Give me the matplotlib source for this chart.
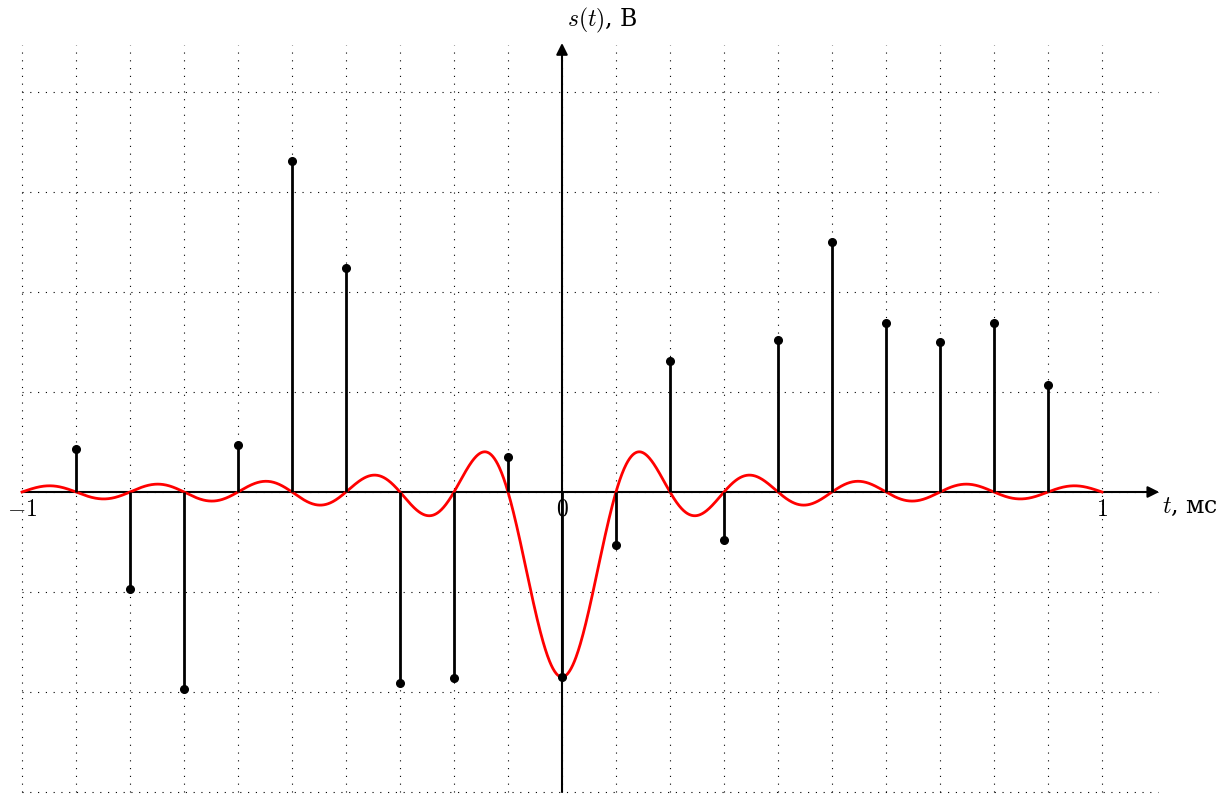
"""Discrete samples s(nT) with the sinc pulse of the central sample."""

import matplotlib.pyplot as plt
import matplotlib
import numpy as np

matplotlib.rcParams["font.family"] = "DejaVu Serif"
matplotlib.rcParams["mathtext.fontset"] = "cm"

T = 0.1  # sampling step, ms

# sample times (ms) and values (V)
t_samples = [-0.9, -0.8, -0.7, -0.6, -0.5, -0.4, -0.3, -0.2, -0.1, 0.0,
             0.1, 0.2, 0.3, 0.4, 0.5, 0.6, 0.7, 0.8, 0.9]
s_samples = [0.43, -0.97, -1.97, 0.47, 3.31, 2.24, -1.91, -1.86, 0.35, -1.85,
             -0.53, 1.31, -0.48, 1.52, 2.50, 1.69, 1.50, 1.69, 1.07]

x_ticks = [-1, 0, 1]
x_tick_labels = ["$-1$", "$0$", "$1$"]
grid_x = np.round(np.arange(-1.0, 1.01, 0.1), 2)
grid_y = [-3, -2, -1, 0, 1, 2, 3, 4]

# red pulse: sinc contribution of the sample at t = 0
s0 = s_samples[t_samples.index(0.0)]
t = np.linspace(-1, 1, 2001)
pulse = s0 * np.sinc(t / T)

fig = plt.figure(figsize=(12.23, 7.94), dpi=100)
ax = fig.add_axes([0, 0, 1, 1])
ax.set_xlim(-1 - 22 / 540, 1 + 121 / 540)
ax.set_ylim(-3.02, 4.92)
ax.axis("off")

# dotted grid
for gx in grid_x:
    ax.plot([gx, gx], [-3.0, 4.47], color="black", linewidth=0.8,
            linestyle=(0, (1, 6)), zorder=1)
for gy in grid_y:
    ax.plot([-1.0, 1.104], [gy, gy], color="black", linewidth=0.8,
            linestyle=(0, (1, 6)), zorder=1)

# axes with arrows
ax.annotate("", xy=(1.106, 0), xytext=(-1.0, 0),
            arrowprops=dict(arrowstyle="-|>", color="black", lw=1.5,
                            mutation_scale=17, shrinkA=0, shrinkB=0), zorder=2)
ax.annotate("", xy=(0, 4.49), xytext=(0, -3.0),
            arrowprops=dict(arrowstyle="-|>", color="black", lw=1.5,
                            mutation_scale=17, shrinkA=0, shrinkB=0), zorder=2)

# red curve
ax.plot(t, pulse, color="red", linewidth=2.0, zorder=3)

# stems
ax.vlines(t_samples, 0, s_samples, color="black", linewidth=2.0, zorder=4)
ax.plot(t_samples, s_samples, "o", color="black", markersize=5.5, zorder=5)

# tick labels
for xv, lab in zip(x_ticks, x_tick_labels):
    ax.text(xv, -0.17, lab, ha="center", va="center", fontsize=17)

ax.text(1.112, -0.15, "$t$, мс", ha="left", va="center", fontsize=17)
ax.text(0.01, 4.72, "$s(t)$, В", ha="left", va="center", fontsize=17)

fig.savefig("out.png", dpi=100)
